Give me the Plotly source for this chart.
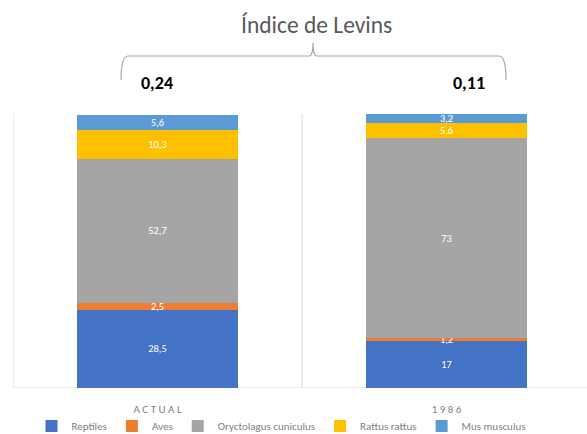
import plotly.graph_objects as go

# Diet composition (%) per period and Levins niche-breadth index
periods = ["ACTUAL", "1986"]
species = ["Reptiles", "Aves", "Oryctolagus cuniculus", "Rattus rattus", "Mus musculus"]
reptiles = [28.5, 17]
aves = [2.5, 1.2]
oryctolagus = [52.7, 73]
rattus = [10.3, 5.6]
mus = [5.6, 3.2]
levins = [0.24, 0.11]

colors = ["#4472C4", "#ED7D31", "#A5A5A5", "#FFC000", "#5B9BD5"]
series = [reptiles, aves, oryctolagus, rattus, mus]

FONT = "Calibri, Carlito, Liberation Sans, sans-serif"
W, H = 587, 434
L, R, T, B = 13, 0, 114, 46
PW, PH = W - L - R, H - T - B

fig = go.Figure()
for name, vals, col in zip(species, series, colors):
    fig.add_trace(go.Bar(
        x=periods, y=vals, name=name,
        marker=dict(color=col, line=dict(width=0)),
        text=[f"{v:g}".replace(".", ",") for v in vals],
        textposition="inside", insidetextanchor="middle", textangle=0,
        textfont=dict(color="white", size=10.5, family=FONT),
        width=0.557,
        cliponaxis=False,
    ))

# category separators and baseline
line_col = "#D9D9D9"
for xb in [-0.5, 0.5]:
    fig.add_shape(type="line", xref="x", yref="y", x0=xb, x1=xb, y0=0, y1=100,
                  line=dict(color=line_col, width=1), layer="below")
fig.add_shape(type="line", xref="x", yref="y", x0=-0.5, x1=1.5, y0=0, y1=0,
              line=dict(color=line_col, width=1), layer="below")


# pixel -> paper (plot-area relative) helpers
def px(x):
    return (x - L) / PW


def py(y):
    return (H - B - y) / PH


bracket_col = "#A6A6A6"
path = (f"M {px(121)} {py(80)} Q {px(121)} {py(56)} {px(128)} {py(56)} "
        f"L {px(309)} {py(56)} Q {px(313)} {py(56)} {px(313)} {py(43)} "
        f"Q {px(313)} {py(56)} {px(317)} {py(56)} "
        f"L {px(499)} {py(56)} Q {px(506)} {py(56)} {px(506)} {py(80)}")
fig.add_shape(type="path", xref="paper", yref="paper", path=path,
              line=dict(color=bracket_col, width=1.2))

label_x = [157, 469]
for v, xl in zip(levins, label_x):
    fig.add_annotation(xref="paper", yref="paper", x=px(xl), y=py(83),
                       xanchor="center", yanchor="middle",
                       text="<b>" + f"{v:.2f}".replace(".", ",") + "</b>", showarrow=False,
                       font=dict(size=18, color="#000000", family=FONT))

fig.add_annotation(xref="paper", yref="paper", x=px(316), y=py(25),
                   xanchor="center", yanchor="middle",
                   text="Índice de Levins", showarrow=False,
                   font=dict(size=23.5, color="#595959", family=FONT))

fig.update_layout(
    width=W, height=H,
    margin=dict(l=L, r=R, t=T, b=B, autoexpand=False),
    barmode="stack",
    plot_bgcolor="white", paper_bgcolor="white",
    showlegend=True,
    legend=dict(orientation="h", x=px(281), xanchor="center", y=py(426), yanchor="middle",
                bgcolor="rgba(0,0,0,0)",
                font=dict(size=11, color="#7F7F7F", family=FONT),
                traceorder="normal", itemwidth=30),
    xaxis=dict(range=[-0.5, 1.486], showgrid=False, zeroline=False, showline=False,
               ticks="", ticklabelstandoff=13, automargin=False,
               tickfont=dict(size=11, color="#7F7F7F", family=FONT),
               ticktext=["A C T U A L", "1 9 8 6"], tickvals=periods),
    yaxis=dict(range=[0, 100], visible=False, automargin=False),
    uniformtext=dict(minsize=10, mode="show"),
)

fig.write_html("out.html")
